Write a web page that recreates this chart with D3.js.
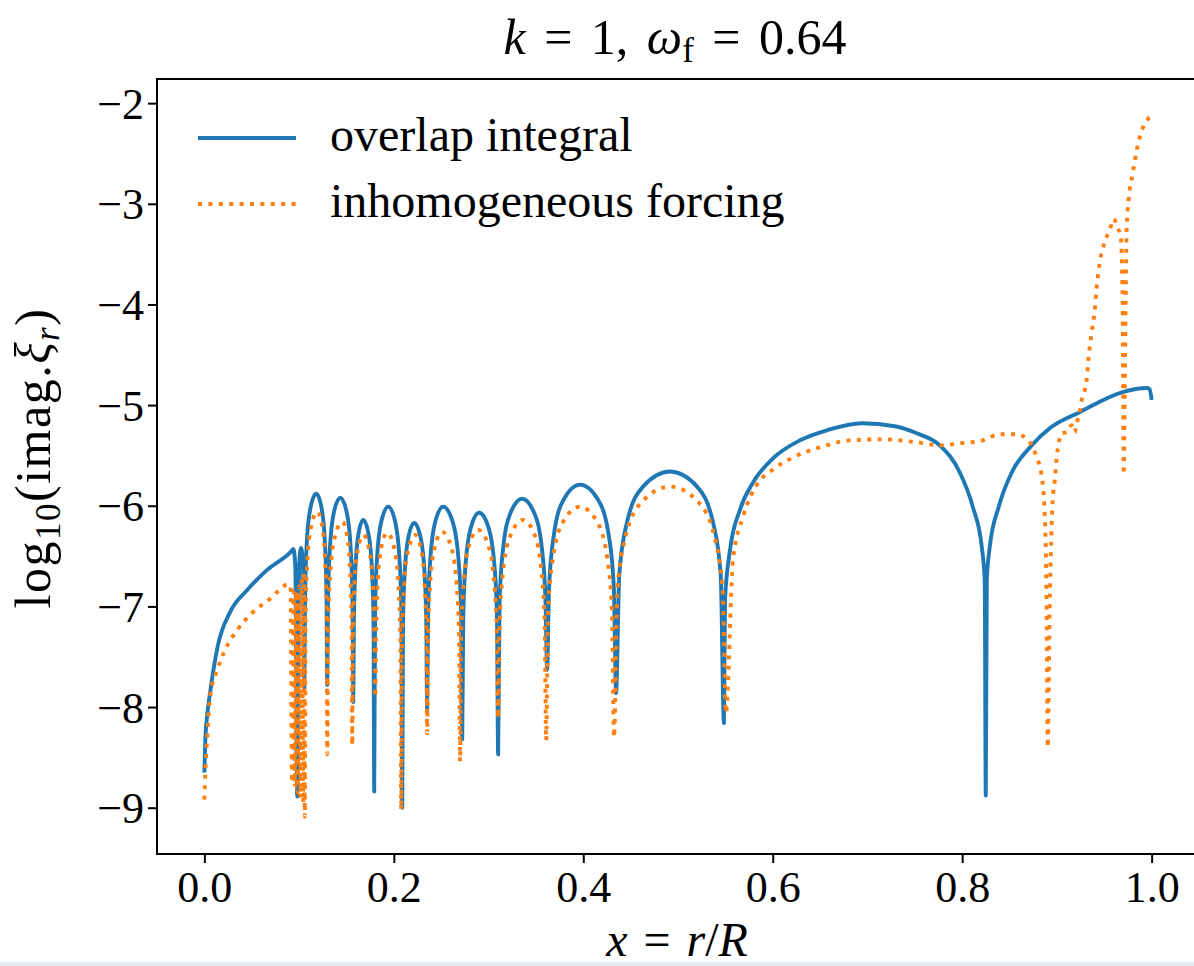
<!DOCTYPE html>
<html>
<head>
<meta charset="utf-8">
<script src="https://cdn.jsdelivr.net/npm/d3@7"></script>
<style>
    body { margin: 0; background: #ffffff; }
    #chart { width: 1194px; height: 966px; overflow: hidden; }
    text { font-family: "Liberation Serif", "DejaVu Serif", serif; fill: #000; }
</style>
</head>
<body>
<div id="chart"></div>
<script>

// overlap integral (solid blue)
const overlapX = [
    0, 0.001, 0.003, 0.006, 0.014, 0.027, 0.045, 0.066, 0.091, 0.094,
    0.096, 0.098, 0.100, 0.102, 0.104, 0.1055,
    0.1063, 0.1080, 0.1118, 0.1181, 0.1239, 0.1274, 0.1290, 0.1297,
    0.1305, 0.1325, 0.1366, 0.1435, 0.1504, 0.1545, 0.1564, 0.1572,
    0.1578, 0.1593, 0.1625, 0.1677, 0.1735, 0.1770, 0.1786, 0.1793,
    0.1802, 0.1823, 0.1867, 0.1941, 0.2015, 0.2059, 0.2080, 0.2089,
    0.2097, 0.2114, 0.2152, 0.2215, 0.2284, 0.2325, 0.2344, 0.2352,
    0.2362, 0.2386, 0.2437, 0.2521, 0.2622, 0.2682, 0.2710, 0.2722,
    0.2733, 0.2758, 0.2812, 0.2901, 0.3001, 0.3061, 0.3089, 0.3101,
    0.3116, 0.3152, 0.3228, 0.3354, 0.3486, 0.3565, 0.3602, 0.3618,
    0.3639, 0.3688, 0.3792, 0.3966, 0.4156, 0.4270, 0.4323, 0.4346,
    0.4380, 0.4460, 0.4631, 0.4916, 0.5201, 0.5371, 0.5451, 0.5485,
    0.5496, 0.5549, 0.5654, 0.5791, 0.6002, 0.6287, 0.6572, 0.6941,
    0.7289, 0.7521, 0.7764, 0.7975, 0.8112, 0.8207, 0.8238, 0.8249,
    0.8260, 0.8291, 0.8386, 0.8523, 0.8734, 0.8924, 0.9241, 0.9694,
    0.9947, 0.9979, 1.0
];
const overlapY = [
    -8.65, -8.33, -8.08, -7.86, -7.40, -7.06, -6.84, -6.64, -6.46, -6.43,
    -6.60, -8.89, -6.60, -6.42, -6.55, -7.83,
    -6.91, -6.39, -6.03, -5.88, -6.03, -6.39, -6.91, -7.78,
    -6.95, -6.43, -6.07, -5.92, -6.07, -6.43, -6.95, -7.95,
    -7.17, -6.65, -6.29, -6.14, -6.29, -6.65, -7.17, -8.84,
    -7.04, -6.52, -6.16, -6.01, -6.16, -6.52, -7.04, -9.00,
    -7.20, -6.68, -6.32, -6.17, -6.32, -6.68, -7.20, -8.06,
    -7.04, -6.52, -6.16, -6.01, -6.16, -6.52, -7.04, -8.32,
    -7.10, -6.58, -6.22, -6.07, -6.22, -6.58, -7.10, -8.47,
    -6.96, -6.44, -6.08, -5.93, -6.08, -6.44, -6.96, -7.63,
    -6.82, -6.30, -5.94, -5.79, -5.94, -6.30, -6.82, -7.86,
    -6.69, -6.17, -5.81, -5.66, -5.81, -6.17, -6.69, -8.16,
    -6.94, -6.44, -6.04, -5.77, -5.53, -5.35, -5.25, -5.18,
    -5.21, -5.28, -5.40, -5.67, -6.01, -6.41, -6.74, -8.88,
    -6.74, -6.41, -6.01, -5.67, -5.40, -5.23, -5.07, -4.87,
    -4.83, -4.84, -4.95
];

// inhomogeneous forcing (dotted orange)
const forcingX = [
    0, 0.001, 0.003, 0.006, 0.014, 0.022, 0.035, 0.051, 0.070, 0.089, 0.091,
    0.0925, 0.094, 0.0955, 0.097, 0.0985, 0.100, 0.1015, 0.103, 0.1045, 0.1052, 0.106,
    0.1068, 0.1086, 0.1126, 0.1192, 0.1245, 0.1276, 0.1291, 0.1297,
    0.1307, 0.1329, 0.1377, 0.1456, 0.1509, 0.1540, 0.1555, 0.1561,
    0.1568, 0.1584, 0.1619, 0.1677, 0.1741, 0.1779, 0.1796, 0.1804,
    0.1812, 0.1829, 0.1867, 0.1930, 0.2004, 0.2048, 0.2069, 0.2078,
    0.2087, 0.2108, 0.2152, 0.2226, 0.2289, 0.2327, 0.2344, 0.2352,
    0.2362, 0.2384, 0.2432, 0.2511, 0.2606, 0.2662, 0.2689, 0.2700,
    0.2711, 0.2738, 0.2795, 0.2890, 0.2996, 0.3059, 0.3088, 0.3101,
    0.3117, 0.3154, 0.3233, 0.3365, 0.3487, 0.3559, 0.3593, 0.3608,
    0.3629, 0.3680, 0.3787, 0.3966, 0.4146, 0.4253, 0.4303, 0.4325,
    0.4360, 0.4443, 0.4621, 0.4916, 0.5211, 0.5388, 0.5471, 0.5506,
    0.5580, 0.5686, 0.5833, 0.6002, 0.6213, 0.6498, 0.6814, 0.7162,
    0.7521, 0.7764, 0.7975, 0.8217, 0.8397, 0.8576, 0.8713, 0.8787,
    0.8840, 0.8871, 0.8892, 0.8903, 0.8924, 0.8956, 0.8977, 0.8998,
    0.9019, 0.9051, 0.9103, 0.9156, 0.9188, 0.9209, 0.9241, 0.9262,
    0.9314, 0.9335, 0.9367, 0.9399, 0.9420, 0.9451, 0.9504, 0.9557,
    0.9599, 0.9641, 0.9673, 0.9694, 0.9705, 0.9715, 0.9726, 0.9736,
    0.9757, 0.9800, 0.9842, 0.9905, 0.9968, 1.0
];
const forcingY = [
    -8.92, -8.65, -8.30, -7.90, -7.62, -7.43, -7.23, -7.06, -6.92, -6.78, -6.80,
    -8.75, -6.85, -8.80, -6.85, -8.85, -6.80, -8.90, -6.70, -8.95, -6.65, -9.09,
    -7.09, -6.57, -6.21, -6.06, -6.21, -6.57, -7.09, -8.47,
    -7.19, -6.67, -6.31, -6.16, -6.31, -6.67, -7.19, -8.38,
    -7.32, -6.80, -6.44, -6.29, -6.44, -6.80, -7.32, -7.90,
    -7.30, -6.78, -6.42, -6.27, -6.42, -6.78, -7.30, -9.02,
    -7.32, -6.80, -6.44, -6.29, -6.44, -6.80, -7.32, -8.26,
    -7.29, -6.77, -6.41, -6.26, -6.41, -6.77, -7.29, -8.54,
    -7.27, -6.75, -6.39, -6.24, -6.39, -6.75, -7.27, -8.11,
    -7.17, -6.65, -6.29, -6.14, -6.29, -6.65, -7.17, -8.33,
    -7.04, -6.52, -6.16, -6.01, -6.16, -6.52, -7.04, -8.30,
    -6.84, -6.32, -5.96, -5.81, -5.96, -6.32, -6.84, -8.06,
    -6.54, -6.11, -5.79, -5.64, -5.52, -5.42, -5.35, -5.34,
    -5.37, -5.40, -5.38, -5.35, -5.29, -5.29, -5.37, -5.52,
    -5.71, -6.07, -7.06, -8.40, -7.00, -5.94, -5.75, -5.52,
    -5.38, -5.28, -5.27, -5.20, -5.27, -5.18, -5.07, -4.95,
    -4.75, -4.52, -4.28, -4.06, -3.83, -3.59, -3.38, -3.26,
    -3.15, -3.24, -3.32, -3.96, -5.69, -4.98, -3.97, -3.26,
    -2.96, -2.70, -2.47, -2.25, -2.15, -2.13
];

const xTicks = [0.0, 0.2, 0.4, 0.6, 0.8, 1.0];
const yTicks = [-9, -8, -7, -6, -5, -4, -3, -2];
const seriesNames = ["overlap integral", "inhomogeneous forcing"];
const seriesColors = ["#1f77b4", "#ff7f0e"];


class LogXiVis {

    constructor(parentElement) {
        this.parentElement = parentElement;
        this.series = [
            {name: seriesNames[0], color: seriesColors[0], dash: null,
             values: overlapX.map((x, i) => ({x: x, y: overlapY[i]}))},
            {name: seriesNames[1], color: seriesColors[1], dash: "4,6.4",
             values: forcingX.map((x, i) => ({x: x, y: forcingY[i]}))}
        ];
        this.initVis();
    }

    initVis() {
        let vis = this;

        vis.margin = {top: 79, right: -5, bottom: 112, left: 157};
        vis.width = 1194 - vis.margin.left - vis.margin.right;
        vis.height = 966 - vis.margin.top - vis.margin.bottom;

        vis.svg = d3.select("#" + vis.parentElement).append("svg")
            .attr("width", 1194)
            .attr("height", 966);

        vis.g = vis.svg.append("g")
            .attr("transform", "translate(" + vis.margin.left + "," + vis.margin.top + ")");

        vis.x = d3.scaleLinear()
            .domain([-0.05, 1.05])
            .range([0, vis.width]);

        vis.y = d3.scaleLinear()
            .domain([-9.46, -1.76])
            .range([vis.height, 0]);

        vis.g.append("clipPath")
            .attr("id", "plot-clip")
            .append("rect")
            .attr("width", vis.width)
            .attr("height", vis.height);

        vis.updateVis();
    }

    updateVis() {
        let vis = this;

        let line = d3.line()
            .x(d => vis.x(d.x))
            .y(d => vis.y(d.y))
            .curve(d3.curveMonotoneX);

        vis.g.append("g")
            .attr("clip-path", "url(#plot-clip)")
            .selectAll("path")
            .data(vis.series)
            .enter().append("path")
            .attr("d", d => line(d.values))
            .attr("fill", "none")
            .attr("stroke", d => d.color)
            .attr("stroke-width", 3.9)
            .attr("stroke-dasharray", d => d.dash)
            .attr("stroke-linejoin", "round");

        // axes
        vis.xAxis = d3.axisBottom(vis.x)
            .tickValues(xTicks)
            .tickSize(9)
            .tickPadding(8)
            .tickFormat(d3.format(".1f"));

        vis.yAxis = d3.axisLeft(vis.y)
            .tickValues(yTicks)
            .tickSize(9)
            .tickPadding(4)
            .tickFormat(d3.format("d"));

        let gx = vis.g.append("g")
            .attr("transform", "translate(0," + vis.height + ")")
            .call(vis.xAxis);
        let gy = vis.g.append("g")
            .call(vis.yAxis);

        [gx, gy].forEach(a => {
            a.select(".domain").remove();
            a.selectAll(".tick line").attr("stroke", "#000").attr("stroke-width", 2);
            a.selectAll(".tick text")
                .style("font-family", "'Liberation Serif', serif")
                .style("font-size", "44px")
                .attr("fill", "#000");
        });
        gy.selectAll(".tick text").attr("dy", "0.34em");

        vis.g.append("rect")
            .attr("width", vis.width)
            .attr("height", vis.height)
            .attr("fill", "none")
            .attr("stroke", "#000")
            .attr("stroke-width", 2);

        // legend
        vis.legend = vis.g.append("g")
            .selectAll("g")
            .data(vis.series)
            .enter().append("g")
            .attr("transform", (d, i) => "translate(41," + (59 + i * 66) + ")");

        vis.legend.append("line")
            .attr("x1", 0)
            .attr("x2", 98)
            .attr("stroke", d => d.color)
            .attr("stroke-width", 3.9)
            .attr("stroke-dasharray", d => d.dash);

        vis.legend.append("text")
            .attr("x", 132)
            .attr("y", 13)
            .style("font-size", "48px")
            .text(d => d.name);

        // title
        let title = vis.svg.append("text")
            .attr("x", 675)
            .attr("y", 54)
            .attr("text-anchor", "middle")
            .style("font-size", "50px")
            .style("word-spacing", "6px");
        title.append("tspan").attr("font-style", "italic").text("k");
        title.append("tspan").text(" = 1, ");
        title.append("tspan").attr("font-style", "italic").text("ω");
        title.append("tspan").attr("font-size", "35px").attr("dy", 8).text("f");
        title.append("tspan").attr("dy", -8).text(" = 0.64");

        // x label
        let xl = vis.svg.append("text")
            .attr("x", 677)
            .attr("y", 956)
            .attr("text-anchor", "middle")
            .style("font-size", "48px")
            .style("word-spacing", "4px");
        xl.append("tspan").attr("font-style", "italic").text("x");
        xl.append("tspan").text(" = ");
        xl.append("tspan").attr("font-style", "italic").text("r");
        xl.append("tspan").text("/");
        xl.append("tspan").attr("font-style", "italic").text("R");

        // y label
        let yl = vis.svg.append("text")
            .attr("transform", "translate(50,458)rotate(-90)")
            .attr("text-anchor", "middle")
            .style("font-size", "50px")
            .style("letter-spacing", "1.5px");
        yl.append("tspan").text("log");
        yl.append("tspan").attr("font-size", "35px").attr("dy", 10).text("10");
        yl.append("tspan").attr("dy", -10).text("(imag.");
        yl.append("tspan").attr("font-style", "italic").text("ξ");
        yl.append("tspan").attr("font-style", "italic").attr("font-size", "35px").attr("dy", 9).text("r");
        yl.append("tspan").attr("dy", -9).text(")");

        // strip at the bottom edge of the screenshot
        vis.svg.append("rect")
            .attr("x", 0)
            .attr("y", 962)
            .attr("width", 1194)
            .attr("height", 4)
            .attr("fill", "#e6ebee");
    }
}

new LogXiVis("chart");
</script>
</body>
</html>
